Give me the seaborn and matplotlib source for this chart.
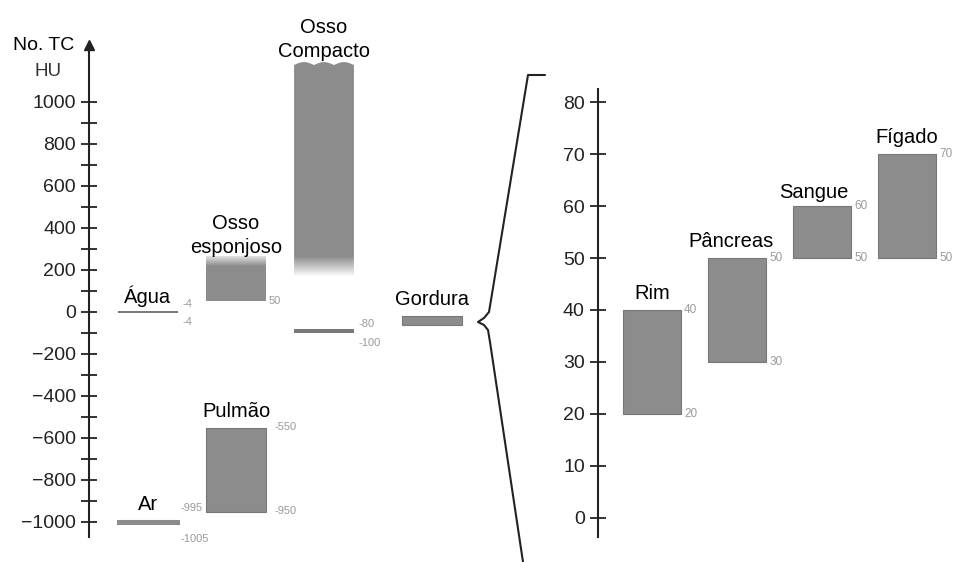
import numpy as np
import matplotlib
matplotlib.use("Agg")
import matplotlib.pyplot as plt
from matplotlib.patches import Polygon
import seaborn as sns

# CT numbers (HU), full scale
left_names = ["Ar", "Água", "Pulmão", "Osso\nesponjoso", "Osso\nCompacto", "", "Gordura"]
left_low = [-1005, -4, -950, 50, 170, -100, -62]
left_high = [-995, 4, -550, 262, 1190, -80, -20]
left_top_txt = ["-995", "-4", "-550", "", "", "-80", ""]
left_bot_txt = ["-1005", "-4", "-950", "50", "", "-100", ""]
left_ticks = list(range(-1000, 1001, 200))
left_minor = list(range(-900, 901, 200))

# zoomed scale 0-80 HU
right_names = ["Rim", "Pâncreas", "Sangue", "Fígado"]
right_low = [20, 30, 50, 50]
right_high = [40, 50, 60, 70]
right_ticks = list(range(0, 81, 10))

# layout / style only
left_col = [0, 0, 1, 1, 2, 2, 3.23]
left_kind = ["line", "thin", "box", "fade_top", "fade_bottom", "thin", "box"]
left_pad = [5, 2.9, 5, 0, 0.7, 0, 5]
left_top_dy = [9.4, 5, 0, 0, 0, 3.6, 0]
left_bot_dy = [-11.5, -6.5, 0, 0, 0, -7, 0]
left_txt_dx = [1.5, 3, 6, 2, 0, 3, 0]
right_pad = [5, 5, 2.9, 5]
right_dx = [0, -4, -6, 0]

sns.set_style("white")
plt.rcParams["font.family"] = ["Liberation Sans", "DejaVu Sans"]

GRAY = "#8c8c8c"
EDGE = "#777777"
INK = "#222222"
SMALL = "#9a9a9a"

W, H = 956, 562
fig = plt.figure(figsize=(W / 100, H / 100), dpi=100)


def px_axes(x0, y_top, x1, y_bot):
    return fig.add_axes([x0 / W, 1 - y_bot / H, (x1 - x0) / W, (y_bot - y_top) / H])


axL = px_axes(89, 45, 470, 537)
axR = px_axes(598, 89, 956, 537)

for ax in (axL, axR):
    ax.set_facecolor("none")
    for s in ("top", "right", "bottom"):
        ax.spines[s].set_visible(False)
    ax.spines["left"].set_color(INK)
    ax.spines["left"].set_linewidth(1.5)
    ax.set_xticks([])
    ax.tick_params(axis="y", which="both", left=True, direction="inout", length=11,
                   width=1.3, color=INK, labelsize=14, labelcolor=INK, pad=4)

wL = 0.68
wR = 0.69


def fade_bar(ax, x, lo, hi, w, pts, alphas, wavy=False):
    vals = np.linspace(lo, hi, 300)
    rgba = np.zeros((300, 1, 4))
    rgba[..., :3] = 0.55
    rgba[:, 0, 3] = np.interp(vals, pts, alphas)
    im = ax.imshow(rgba, extent=(x - w / 2, x + w / 2, lo, hi), origin="lower",
                   aspect="auto", interpolation="bilinear", zorder=2)
    if wavy:
        xs = np.linspace(x - w / 2, x + w / 2, 80)
        t = (xs - xs[0]) / w
        top = hi - 14 * (1 - np.abs(np.sin(3 * np.pi * t)))
        poly = list(zip(xs, top)) + [(x + w / 2, lo), (x - w / 2, lo)]
        patch = Polygon(poly, closed=True, facecolor="none", edgecolor="none")
        ax.add_patch(patch)
        im.set_clip_path(patch)


for i, (x, lo, hi, kind) in enumerate(zip(left_col, left_low, left_high, left_kind)):
    if kind == "box":
        axL.bar(x, hi - lo, bottom=lo, width=wL, color=GRAY, edgecolor=EDGE, linewidth=0.8)
    elif kind == "line":
        axL.bar(x, hi - lo, bottom=lo, width=wL, color=GRAY, edgecolor=GRAY, linewidth=2.2)
    elif kind == "thin":
        axL.bar(x, hi - lo, bottom=lo, width=wL, color="#7a7a7a", edgecolor="none")
    elif kind == "fade_top":
        fade_bar(axL, x, lo, hi, wL, [lo, 215, hi], [1, 1, 0.25])
    elif kind == "fade_bottom":
        fade_bar(axL, x, lo, hi, wL, [lo, 262, hi], [0.05, 1, 1], wavy=True)

    if left_names[i]:
        axL.annotate(left_names[i], (x, hi), xytext=(0, left_pad[i]), textcoords="offset points",
                     ha="center", va="bottom", fontsize=14.5, color="black", linespacing=1.35)
    if left_top_txt[i]:
        axL.annotate(left_top_txt[i], (x + wL / 2, hi), xytext=(left_txt_dx[i], left_top_dy[i]),
                     textcoords="offset points", ha="left", va="center", fontsize=8, color=SMALL)
    if left_bot_txt[i]:
        axL.annotate(left_bot_txt[i], (x + wL / 2, lo), xytext=(left_txt_dx[i], left_bot_dy[i]),
                     textcoords="offset points", ha="left", va="center", fontsize=8, color=SMALL)

axL.set_yticks(left_ticks)
axL.set_yticks(left_minor, minor=True)
axL.set_ylim(-(537 - 312) / 0.21, (312 - 45) / 0.21)
axL.set_xlim(-59 / 88, (470 - 148) / 88)
axL.plot(0, 1, marker="^", ms=7, color=INK, transform=axL.transAxes, clip_on=False)

for i, (lo, hi) in enumerate(zip(right_low, right_high)):
    axR.bar(i, hi - lo, bottom=lo, width=wR, color=GRAY, edgecolor=EDGE, linewidth=0.8)
    axR.annotate(right_names[i], (i, hi), xytext=(right_dx[i], right_pad[i]), textcoords="offset points",
                 ha="center", va="bottom", fontsize=14.5, color="black")
    axR.annotate(str(hi), (i + wR / 2, hi), xytext=(2, 0), textcoords="offset points",
                 ha="left", va="center", fontsize=8.5, color=SMALL)
    axR.annotate(str(lo), (i + wR / 2, lo), xytext=(2, 0), textcoords="offset points",
                 ha="left", va="center", fontsize=8.5, color=SMALL)

axR.set_yticks(right_ticks)
axR.set_ylim(-(537 - 518) / 5.2, (518 - 89) / 5.2)
axR.set_xlim(-54 / 85, (956 - 652) / 85)

# overlay in pixel coordinates for the brace and axis caption
ov = fig.add_axes([0, 0, 1, 1])
ov.set_xlim(0, W)
ov.set_ylim(H, 0)
ov.axis("off")
ov.patch.set_alpha(0)
brace = [(545, 75), (528, 75), (491, 300), (489, 312), (484, 318), (478, 322),
         (484, 325), (488, 330), (490, 342), (523, 562)]
ov.plot([p[0] for p in brace], [p[1] for p in brace], color=INK, lw=1.5,
        solid_joinstyle="round", solid_capstyle="round")
ov.text(44, 45, "No. TC", ha="center", va="center", fontsize=14, color="black")
ov.text(48, 72, "HU", ha="center", va="center", fontsize=13.5, color="#333333")

fig.savefig("out.png", dpi=100)
